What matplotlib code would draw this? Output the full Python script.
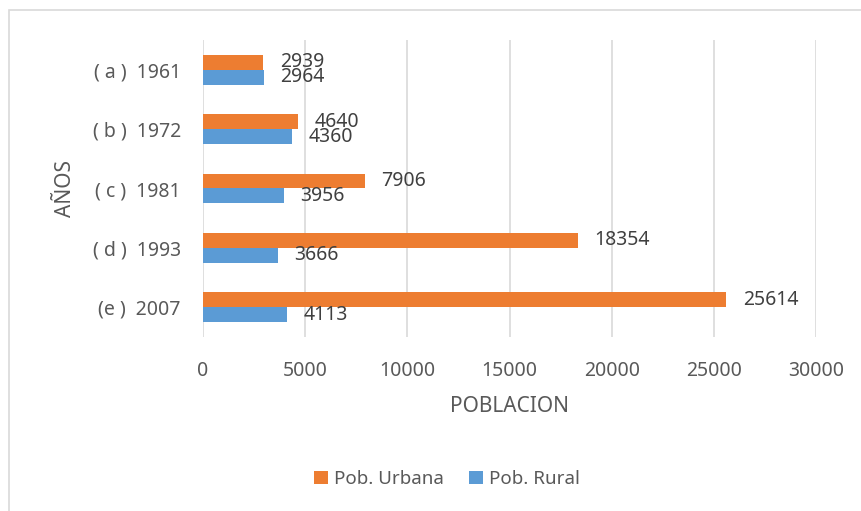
import matplotlib
matplotlib.use('Agg')
import matplotlib.pyplot as plt
import numpy as np

# datos
anios = ['( a )  1961', '( b )  1972', '( c )  1981', '( d )  1993', '(e )  2007']
urbana = [2939, 4640, 7906, 18354, 25614]
rural = [2964, 4360, 3956, 3666, 4113]

naranja = '#ED7D31'
azul = '#5B9BD5'
gris = '#595959'

plt.rcParams['font.family'] = ['Noto Sans', 'DejaVu Sans']

fig = plt.figure(figsize=(8.61, 5.11), dpi=100)
ax = fig.add_axes([203/861, 1-337/511, 613/861, 297/511])

# borde del grafico
fig.patches.append(plt.Rectangle((9/861, -0.01), 1.0, 1-10/511+0.01, transform=fig.transFigure,
                                 fill=False, edgecolor='#D9D9D9', linewidth=1.2))

y = np.arange(len(anios))
h = 0.25
b1 = ax.barh(y - h/2, urbana, height=h, color=naranja, label='Pob. Urbana', zorder=3)
b2 = ax.barh(y + h/2, rural, height=h, color=azul, label='Pob. Rural', zorder=3)

for barras, vals in [(b1, urbana), (b2, rural)]:
    for b, v in zip(barras, vals):
        ax.annotate(str(v), (b.get_width(), b.get_y() + b.get_height()/2),
                    xytext=(12, 0), textcoords='offset points', ha='left', va='center',
                    fontsize=14, color='#404040')

ax.set_xlim(0, 30000)
ax.set_xticks(range(0, 30001, 5000))
ax.set_ylim(4.5, -0.5)
ax.set_yticks(y)
ax.set_yticklabels(anios)
ax.tick_params(axis='both', length=0, labelsize=14, labelcolor=gris)
ax.tick_params(axis='x', pad=17)
ax.tick_params(axis='y', pad=16)
ax.grid(axis='x', color='#D9D9D9', linewidth=1.2, zorder=0)
for s in ax.spines.values():
    s.set_visible(False)

ax.set_xlabel('POBLACION', fontsize=15, color=gris, labelpad=11)
ax.set_ylabel('AÑOS', fontsize=15, color=gris, labelpad=12)

fig.legend(handles=[b1, b2], loc='center', bbox_to_anchor=(447/861, 1-479/511), ncol=2,
           frameon=False, fontsize=13.5, labelcolor=gris, handlelength=0.75, handleheight=0.75,
           handletextpad=0.35, columnspacing=1.3)

fig.savefig('out.png', dpi=100)
